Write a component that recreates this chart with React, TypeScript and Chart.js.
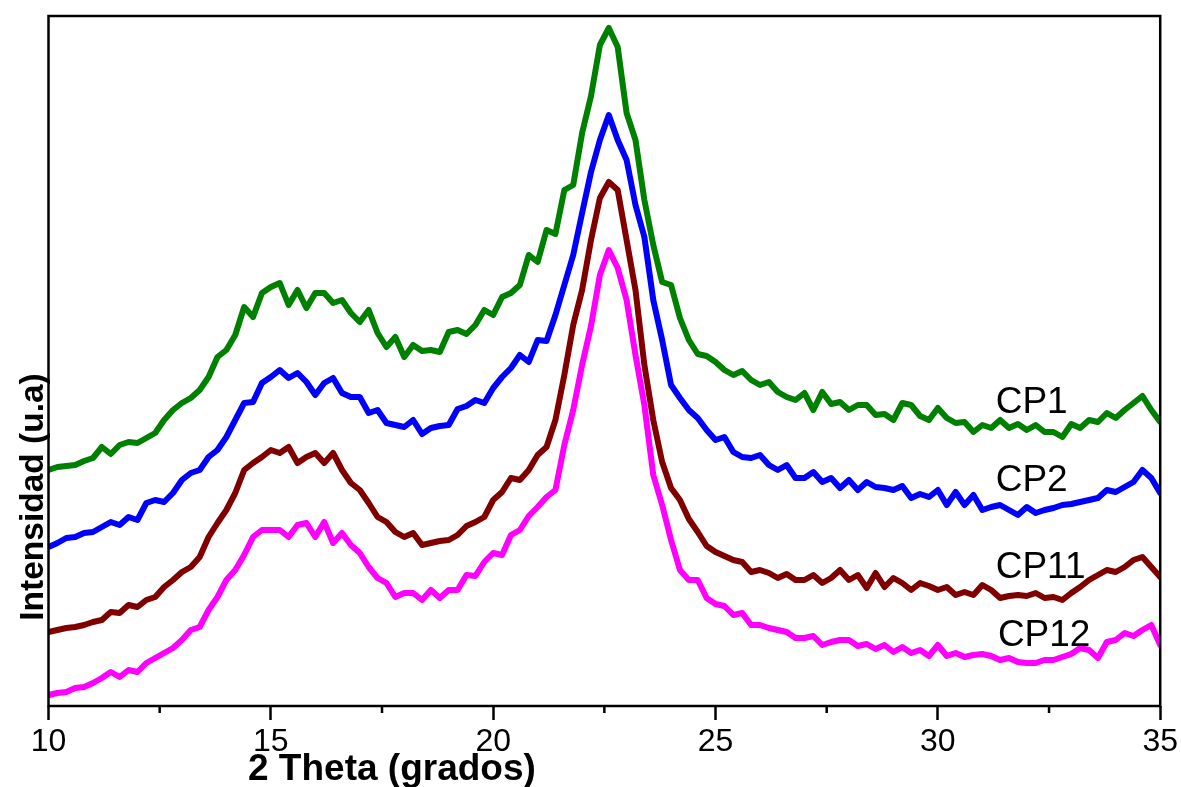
import React, { useEffect, useRef } from 'react';
import { Chart, registerables } from 'chart.js';

Chart.register(...registerables);

const FONT = "'Liberation Sans', Arial, Helvetica, sans-serif";

// 2θ sample positions (degrees)
const X_VALUES = [
  10, 10.2, 10.4, 10.6, 10.8, 11, 11.2, 11.4, 11.6, 11.8,
  12, 12.2, 12.4, 12.6, 12.8, 13, 13.2, 13.4, 13.6, 13.8,
  14, 14.2, 14.4, 14.6, 14.8, 15, 15.2, 15.4, 15.6, 15.8,
  16, 16.2, 16.4, 16.6, 16.8, 17, 17.2, 17.4, 17.6, 17.8,
  18, 18.2, 18.4, 18.6, 18.8, 19, 19.2, 19.4, 19.6, 19.8,
  20, 20.2, 20.4, 20.6, 20.8, 21, 21.2, 21.4, 21.6, 21.8,
  22, 22.2, 22.4, 22.6, 22.8, 23, 23.2, 23.4, 23.6, 23.8,
  24, 24.2, 24.4, 24.6, 24.8, 25, 25.2, 25.4, 25.6, 25.8,
  26, 26.2, 26.4, 26.6, 26.8, 27, 27.2, 27.4, 27.6, 27.8,
  28, 28.2, 28.4, 28.6, 28.8, 29, 29.2, 29.4, 29.6, 29.8,
  30, 30.2, 30.4, 30.6, 30.8, 31, 31.2, 31.4, 31.6, 31.8,
  32, 32.2, 32.4, 32.6, 32.8, 33, 33.2, 33.4, 33.6, 33.8,
  34, 34.2, 34.4, 34.6, 34.8, 35,
];

// Intensity (u.a.), offset curves as in the figure
const CP1 = [
  236, 239, 240, 241, 245, 248, 259, 252, 261, 264,
  263, 268, 273, 286, 296, 303, 308, 316, 329, 349,
  356, 371, 399, 389, 413, 419, 423, 401, 416, 398,
  413, 413, 403, 406, 393, 384, 396, 373, 359, 369,
  349, 361, 355, 356, 354, 374, 376, 372, 381, 396,
  391, 409, 413, 421, 451, 444, 476, 472, 516, 521,
  573, 610, 661, 678, 659, 593, 566, 506, 461, 424,
  421, 388, 366, 352, 350, 344, 336, 331, 335, 326,
  321, 324, 314, 309, 306, 313, 296, 314, 302, 304,
  296, 301, 301, 291, 292, 286, 303, 301, 290, 286,
  298, 288, 283, 284, 274, 281, 278, 286, 278, 282,
  276, 281, 274, 274, 269, 282, 278, 286, 284, 293,
  288, 296, 303, 310, 296, 284,
];

const CP2 = [
  159, 163, 168, 169, 173, 174, 179, 184, 181, 189,
  186, 203, 206, 204, 213, 226, 233, 236, 249, 256,
  269, 286, 303, 304, 323, 329, 336, 328, 333, 324,
  311, 323, 328, 313, 309, 309, 293, 296, 283, 281,
  279, 286, 272, 278, 280, 281, 297, 300, 306, 303,
  318, 329, 338, 351, 344, 366, 365, 391, 421, 451,
  493, 534, 566, 591, 566, 546, 501, 469, 406, 366,
  321, 308, 296, 288, 276, 266, 269, 254, 249, 248,
  251, 241, 236, 241, 228, 228, 234, 224, 228, 218,
  226, 216, 224, 219, 218, 216, 220, 208, 212, 209,
  216, 201, 214, 201, 211, 196, 199, 201, 196, 191,
  199, 193, 196, 198, 201, 202, 204, 206, 208, 216,
  214, 219, 224, 236, 228, 213,
];

const CP11 = [
  74, 76, 78, 79, 81, 84, 86, 94, 93, 101,
  99, 106, 109, 119, 126, 134, 139, 149, 169, 183,
  196, 213, 236, 243, 249, 256, 253, 259, 243, 249,
  253, 243, 253, 236, 223, 216, 203, 189, 184, 174,
  169, 173, 161, 163, 165, 166, 171, 180, 184, 189,
  206, 214, 228, 226, 236, 251, 259, 286, 331, 381,
  416, 466, 508, 524, 516, 466, 416, 341, 286, 244,
  218, 206, 187, 174, 160, 154, 150, 146, 144, 134,
  136, 133, 128, 132, 126, 126, 131, 123, 128, 136,
  126, 131, 118, 133, 119, 128, 123, 116, 123, 120,
  116, 119, 111, 114, 111, 121, 116, 108, 110, 111,
  110, 113, 108, 109, 106, 113, 119, 126, 131, 136,
  134, 139, 146, 149, 139, 129,
];

const CP12 = [
  11, 13, 14, 18, 19, 23, 28, 34, 29, 36,
  34, 43, 48, 53, 58, 66, 76, 79, 96, 109,
  126, 136, 151, 169, 176, 176, 176, 169, 181, 183,
  169, 184, 163, 173, 161, 153, 139, 128, 123, 109,
  113, 113, 106, 116, 108, 116, 116, 131, 130, 144,
  153, 151, 171, 176, 190, 199, 209, 216, 261, 296,
  341, 380, 431, 456, 438, 406, 351, 301, 231, 201,
  166, 136, 126, 126, 108, 102, 100, 91, 93, 81,
  81, 78, 76, 74, 68, 68, 70, 61, 64, 66,
  66, 60, 62, 57, 61, 54, 59, 53, 56, 50,
  61, 50, 53, 49, 51, 52, 50, 46, 48, 44,
  43, 43, 46, 46, 49, 52, 58, 56, 48, 64,
  66, 73, 70, 76, 81, 61,
];

const SERIES_NAMES = ['CP1', 'CP2', 'CP11', 'CP12'];
const SERIES_VALUES = [CP1, CP2, CP11, CP12];
const SERIES_COLORS = ['#008000', '#0000ff', '#800000', '#ff00ff'];

// text labels anchored in data coordinates (left edge, baseline)
const LABEL_X = [31.3, 31.3, 31.3, 31.35];
const LABEL_Y = [293, 215, 128, 60];

const X_MAJOR_TICKS = [10, 15, 20, 25, 30, 35];
const X_MINOR_TICKS = [12.5, 17.5, 22.5, 27.5, 32.5];

const X_TITLE = '2 Theta (grados)';
const Y_TITLE = 'Intensidad (u.a)';

const decorPlugin = {
  id: 'decor',
  afterDraw(chart: any) {
    const { ctx, chartArea: a, scales } = chart;
    ctx.save();
    ctx.strokeStyle = '#000';
    ctx.lineWidth = 2.5;
    ctx.strokeRect(a.left, a.top, a.right - a.left, a.bottom - a.top);
    // minor ticks
    X_MINOR_TICKS.forEach((v) => {
      const px = scales.x.getPixelForValue(v);
      ctx.beginPath();
      ctx.moveTo(px, a.bottom);
      ctx.lineTo(px, a.bottom + 7);
      ctx.stroke();
    });
    // series labels
    ctx.fillStyle = '#000';
    ctx.font = `37px ${FONT}`;
    ctx.textAlign = 'left';
    ctx.textBaseline = 'alphabetic';
    SERIES_NAMES.forEach((name, i) => {
      ctx.fillText(name, scales.x.getPixelForValue(LABEL_X[i]), scales.y.getPixelForValue(LABEL_Y[i]));
    });
    // axis titles
    ctx.font = `bold 37px ${FONT}`;
    ctx.fillText(X_TITLE, 248, 780);
    ctx.font = `bold 33.5px ${FONT}`;
    ctx.translate(43, 497);
    ctx.rotate(-Math.PI / 2);
    ctx.textAlign = 'center';
    ctx.fillText(Y_TITLE, 0, 0);
    ctx.restore();
  },
};

export default function App() {
  const ref = useRef<HTMLCanvasElement | null>(null);

  useEffect(() => {
    if (!ref.current) return;
    const chart = new Chart(ref.current, {
      type: 'line',
      data: {
        datasets: SERIES_NAMES.map((name, s) => ({
          label: name,
          data: X_VALUES.map((x, i) => ({ x, y: SERIES_VALUES[s][i] })),
          borderColor: SERIES_COLORS[s],
          backgroundColor: SERIES_COLORS[s],
          borderWidth: 6,
          pointRadius: 0,
          tension: 0,
          fill: false,
          borderJoinStyle: 'round',
          borderCapStyle: 'round',
        })),
      },
      options: {
        animation: false,
        responsive: false,
        devicePixelRatio: 1,
        layout: { padding: { left: 0, top: 16, right: 20, bottom: 0 } },
        plugins: {
          legend: { display: false },
          tooltip: { enabled: false },
        },
        scales: {
          x: {
            type: 'linear',
            min: 10,
            max: 35,
            afterBuildTicks: (scale: any) => {
              scale.ticks = X_MAJOR_TICKS.map((v) => ({ value: v }));
            },
            afterFit: (scale: any) => {
              scale.height = 81;
            },
            ticks: {
              color: '#000',
              font: { family: FONT, size: 32 },
              padding: 3,
              autoSkip: false,
              maxRotation: 0,
            },
            grid: {
              display: true,
              drawOnChartArea: false,
              drawTicks: true,
              tickLength: 14,
              tickWidth: 2.5,
              tickColor: '#000',
            },
            border: { display: false },
          },
          y: {
            type: 'linear',
            min: 0,
            max: 690,
            afterFit: (scale: any) => {
              scale.width = 48.5;
            },
            ticks: { display: false },
            grid: { display: false },
            border: { display: false },
          },
        },
      },
      plugins: [decorPlugin],
    } as any);
    return () => chart.destroy();
  }, []);

  return (
    <div style={{ position: 'fixed', left: 0, top: 0, width: 1181, height: 787, background: '#fff' }}>
      <canvas ref={ref} width={1181} height={787} style={{ width: 1181, height: 787, display: 'block' }} />
    </div>
  );
}
